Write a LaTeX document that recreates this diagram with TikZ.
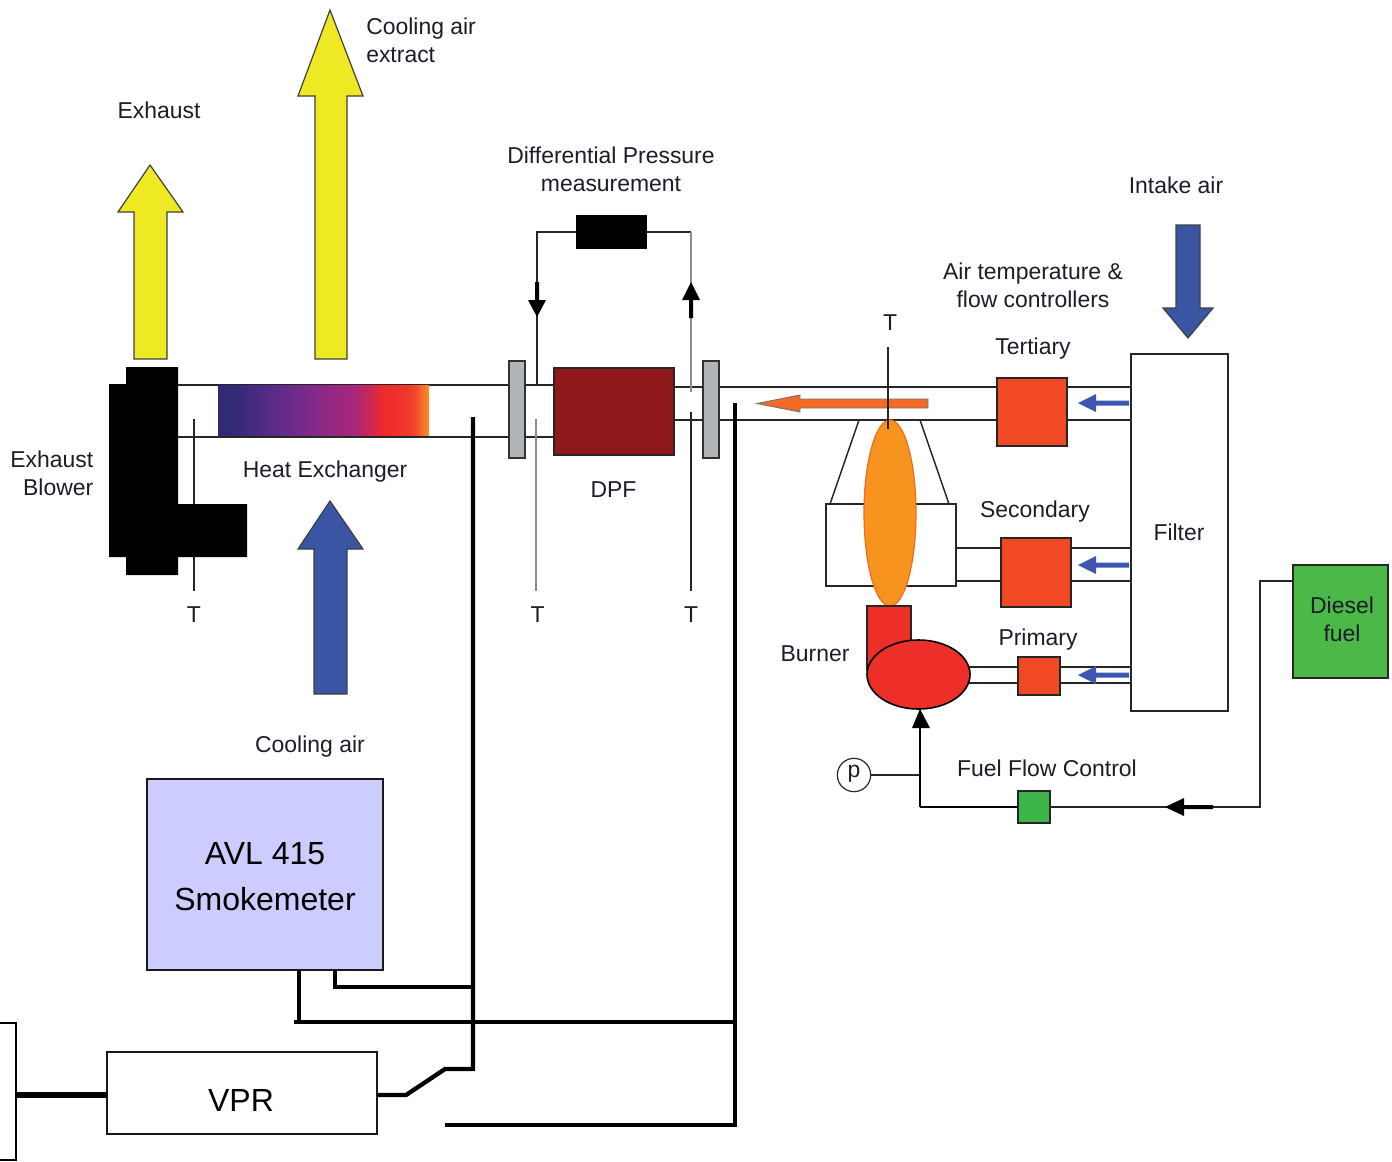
\documentclass[tikz,border=0pt]{standalone}
\usepackage{fontspec}
\setmainfont{Liberation Sans}
\usetikzlibrary{calc}
\definecolor{ylw}{HTML}{EFE924}
\definecolor{blu}{HTML}{3A55A4}
\definecolor{arr}{HTML}{3F57B0}
\definecolor{hot}{HTML}{F04923}
\definecolor{red1}{HTML}{EE2E28}
\definecolor{flame}{HTML}{F7941E}
\definecolor{flameedge}{HTML}{F26A25}
\definecolor{dpfc}{HTML}{8F181B}
\definecolor{flangec}{HTML}{B1B5B8}
\definecolor{grn}{HTML}{3DB54A}
\definecolor{grn2}{HTML}{4BB848}
\definecolor{lav}{HTML}{CCCCFF}
\definecolor{ink}{HTML}{1C1C2A}
\pgfdeclarehorizontalshading{hxshadeb}{100bp}{
 rgb(0bp)=(0.18,0.165,0.447);
 rgb(25bp)=(0.18,0.165,0.447);
 rgb(29bp)=(0.2,0.165,0.46);
 rgb(37bp)=(0.33,0.17,0.53);
 rgb(47bp)=(0.5,0.165,0.54);
 rgb(58bp)=(0.68,0.15,0.47);
 rgb(64bp)=(0.93,0.16,0.18);
 rgb(70bp)=(0.94,0.22,0.17);
 rgb(72bp)=(0.95,0.3,0.17);
 rgb(75bp)=(0.97,0.58,0.17);
 rgb(100bp)=(0.97,0.58,0.17)}
\tikzset{
 lbl/.style={font=\fontsize{17.2}{21}\selectfont,text=ink,inner sep=0pt,align=center},
 biglbl/.style={font=\fontsize{24}{35}\selectfont,text=black,inner sep=0pt,align=center},
 wire/.style={draw=black!85,line width=1.1pt},
 greywire/.style={draw=black!45,line width=1.3pt},
 heavy/.style={draw=black,line width=3.2pt},
 bigarrow/.style={draw=black!75,line width=0.9pt},
}
\newcommand{\rectnode}[6]{% name,x1,y1,x2,y2,style
 \node[rectangle,inner sep=0pt,outer sep=0pt,minimum width={(#4-#2)*0.75pt},minimum height={(#5-#3)*0.75pt},#6] (#1) at ({(#2+#4)/2},{(#3+#5)/2}) {};}
\begin{document}
\begin{tikzpicture}[x=0.75pt,y=-0.75pt]
\useasboundingbox (0,0) rectangle (1392,1161);
% exhaust duct
\coordinate (ductTL) at (178,385); \coordinate (ductBL) at (178,437);
\coordinate (f1TL) at (510,385); \coordinate (f1BL) at (510,437);
\draw[wire] (ductTL) -- (f1TL);
\draw[wire] (ductBL) -- (f1BL);
% probes
\coordinate (p1a) at (194,419); \coordinate (p1b) at (194,591);
\draw[wire] (p1a) -- (p1b);
% blower
\fill[black] (126,367) -- (178,367) -- (178,504) -- (247,504) -- (247,557) -- (178,557) -- (178,575) -- (126,575) -- (126,557) -- (109,557) -- (109,384) -- (126,384) -- cycle;
% heat exchanger
\rectnode{hx}{218}{385}{429}{437}{shading=hxshadeb}
\draw[wire] (hx.south west) -- (hx.south east);
% big arrows
\path[fill=ylw,bigarrow] (150,165) -- (183,212) -- (167,212) -- (167,359) -- (134,359) -- (134,212) -- (118,212) -- cycle;
\path[fill=ylw,bigarrow] (330,10) -- (363,96) -- (347,96) -- (347,359) -- (315,359) -- (315,96) -- (298,96) -- cycle;
\path[fill=blu,bigarrow] (330,501) -- (363,549) -- (347,549) -- (347,694) -- (314,694) -- (314,549) -- (298,549) -- cycle;
\path[fill=blu,bigarrow] (1188,338) -- (1213,308) -- (1200,308) -- (1200,225) -- (1176,225) -- (1176,308) -- (1163,308) -- cycle;
% DPF section
\rectnode{dpf}{554}{368}{674}{455}{fill=dpfc,draw=black!85,line width=1.1pt}
\rectnode{flL}{509}{361}{525}{458}{fill=flangec,draw=black!80,line width=1.1pt}
\rectnode{flR}{703}{361}{719}{458}{fill=flangec,draw=black!80,line width=1.1pt}
\rectnode{dps}{576}{215}{647}{249}{fill=black}
\draw[wire] (525,385) -- (554,385);
\draw[wire] (525,437) -- (554,437);
\draw[wire] (674,387) -- (703,387);
\draw[wire] (674,420) -- (703,420);
% pressure lines
\coordinate (dpL) at (537,232); \coordinate (dpR) at (691,232);
\coordinate (dpLb) at (537,385); \coordinate (dpRb) at (691,392);
\draw[wire] (dps.west) -- (dpL) -- (dpLb);
\draw[wire] (dps.east) -- (dpR);
\draw[greywire] (dpR) -- (dpRb);
\fill[black] (537,317) -- (528,300) -- (535,300) -- (535,282) -- (539,282) -- (539,300) -- (546,300) -- cycle;
\fill[black] (691,282) -- (682,300) -- (689,300) -- (689,318) -- (693,318) -- (693,300) -- (700,300) -- cycle;
% T probes
\coordinate (p2a) at (536,419); \coordinate (p2b) at (536,591);
\coordinate (p3a) at (691,412); \coordinate (p3b) at (691,591);
\draw[greywire] (p2a) -- (p2b);
\draw[wire] (p3a) -- (p3b);
% intake ducts
\rectnode{filter}{1131}{354}{1228}{711}{fill=white,draw=black!85,line width=1.1pt}
\rectnode{ter}{997}{378}{1067}{446}{fill=hot,draw=black!85,line width=1.1pt}
\rectnode{sec}{1001}{538}{1071}{607}{fill=hot,draw=black!85,line width=1.1pt}
\rectnode{pri}{1018}{657}{1060}{695}{fill=hot,draw=black!85,line width=1.1pt}
\draw[wire] (719,387) -- (997,387);
\draw[wire] (719,420) -- (997,420);
\draw[wire] (1067,387) -- (1131,387);
\draw[wire] (1067,420) -- (1131,420);
% burner chamber
\rectnode{chamber}{826}{504}{956}{586}{fill=white,draw=black!85,line width=1.1pt}
\draw[wire] (830,504) -- (859,420);
\draw[wire] (920,420) -- (949,504);
\draw[wire] (956,548) -- (1001,548);
\draw[wire] (956,581) -- (1001,581);
\draw[wire] (1071,548) -- (1131,548);
\draw[wire] (1071,581) -- (1131,581);
\path[fill=flame,draw=flameedge,line width=0.9pt] (890,513) ellipse [x radius=26,y radius=93];
% orange flow arrow
\path[fill=flameedge,draw=black!55,line width=0.7pt] (757,403.5) -- (800,395) -- (800,399) -- (928,399) -- (928,408) -- (800,408) -- (800,412) -- cycle;
\coordinate (p4a) at (888,347); \coordinate (p4b) at (888,429);
\draw[wire] (p4a) -- (p4b);
% burner
\draw[wire] (968,667) -- (1018,667);
\draw[wire] (968,683) -- (1018,683);
\draw[wire] (1060,667) -- (1131,667);
\draw[wire] (1060,683) -- (1131,683);
\rectnode{tube}{867}{606}{911}{670}{fill=red1,draw=black!85,line width=1.1pt}
\path[fill=red1,draw=black,line width=1.2pt] (918.5,674.5) ellipse [x radius=51.5,y radius=34.5];
\coordinate (brn) at (920,709);
% blue small arrows
\foreach \yy in {403,565,675}{
 \fill[arr] (1078,\yy) -- (1096,{\yy-9}) -- (1096,{\yy-2.5}) -- (1129,{\yy-2.5}) -- (1129,{\yy+2.5}) -- (1096,{\yy+2.5}) -- (1096,{\yy+9}) -- cycle;
}
% fuel
\rectnode{diesel}{1293}{565}{1388}{678}{fill=grn2,draw=black!85,line width=1.1pt}
\rectnode{ffc}{1018}{791}{1050}{823}{fill=grn,draw=black!85,line width=1.1pt}
\node[circle,draw=black!85,line width=0.9pt,minimum size=25pt,inner sep=0pt] (pg) at (854,775) {};
\node[lbl] (ptxt) at (854,774) {p};
\coordinate (fc) at (920,807);
\coordinate (fr) at (1260,807);
\coordinate (ft) at (1260,581);
\coordinate (fd) at (1293,581);
\coordinate (pj) at (920,775);
\draw[line width=1.7pt,draw=black] (fc) -- (ffc.west);
\draw[wire] (ffc.east) -- (fr) -- (ft) -- (fd);
\draw[wire] (pg.east) -- (pj);
\draw[line width=2.2pt,draw=black] (fc) -- (920,725);
\fill[black] (brn) -- (930,728) -- (912,728) -- cycle;
\fill[black] (1165,807) -- (1184,798) -- (1184,805) -- (1213,805) -- (1213,809) -- (1184,809) -- (1184,816) -- cycle;
% smokemeter and VPR
\rectnode{avl}{147}{779}{383}{970}{fill=lav,draw=black!90,line width=1.5pt}
\rectnode{vpr}{107}{1052}{377}{1134}{fill=white,draw=black!90,line width=1.3pt}
\coordinate (h1t) at (473,417); \coordinate (h2t) at (735,403);
\coordinate (sw0) at (377,1095); \coordinate (sw1) at (406,1095); \coordinate (sw2) at (445,1069); \coordinate (sw3) at (473,1069);
\coordinate (h2b) at (735,1125); \coordinate (h2e) at (445,1125);
\coordinate (s1) at (299,1022); \coordinate (s1e) at (294,1022); \coordinate (s1r) at (735,1022);
\coordinate (s2) at (335,987); \coordinate (s2r) at (473,987);
\coordinate (a1) at (299,970); \coordinate (a2) at (335,970);
\draw[heavy] (h1t) -- (sw3) -- (sw2) -- (sw1) -- (sw0);
\draw[heavy] (h2t) -- (h2b) -- (h2e);
\draw[heavy] (s1e) -- (s1r);
\draw[heavy] (a1) -- (s1);
\draw[heavy] (a2) -- (s2) -- (s2r);
% left cut-off box
\coordinate (lb1) at (0,1023); \coordinate (lb2) at (16,1023); \coordinate (lb3) at (16,1160); \coordinate (lb4) at (0,1160);
\coordinate (lbm) at (16,1095); \coordinate (vl) at (107,1095);
\draw[draw=black,line width=1.3pt] (lb1) -- (lb2) -- (lb3) -- (lb4);
\draw[draw=black,line width=3.8pt] (lbm) -- (vl);
% texts
\node[lbl] (t1) at (159,110) {Exhaust};
\node[lbl,align=left,anchor=north west] (t2) at (366,18) {Cooling air\\extract};
\node[lbl] (t3) at (611,169) {Differential Pressure\\measurement};
\node[lbl] (t4) at (1176,185) {Intake air};
\node[lbl] (t5) at (1033,285) {Air temperature \&\\flow controllers};
\node[lbl] (t6) at (1033,349) {Tertiary};
\node[lbl] (t7) at (1035,512) {Secondary};
\node[lbl] (t8) at (1038,640) {Primary};
\node[lbl] (t9) at (1179,532) {Filter};
\node[lbl] (t10) at (1342,619) {Diesel\\fuel};
\node[lbl] (t11) at (815,654) {Burner};
\node[lbl] (t12) at (1047,768) {Fuel Flow Control};
\node[lbl] (t13) at (613.5,490) {DPF};
\node[lbl] (t14) at (325,472) {Heat Exchanger};
\node[lbl] (t15) at (310,747) {Cooling air};
\node[lbl,align=right,anchor=east] (t16) at (93.5,473.5) {Exhaust\\Blower};
\node[lbl] (t17) at (194,615) {T};
\node[lbl] (t18) at (537.5,615) {T};
\node[lbl] (t19) at (691,615) {T};
\node[lbl] (t20) at (890,323) {T};
\node[biglbl] (t21) at (265,876.5) {AVL 415\\Smokemeter};
\node[biglbl] (t22) at (241,1100) {VPR};
\end{tikzpicture}
\end{document}
